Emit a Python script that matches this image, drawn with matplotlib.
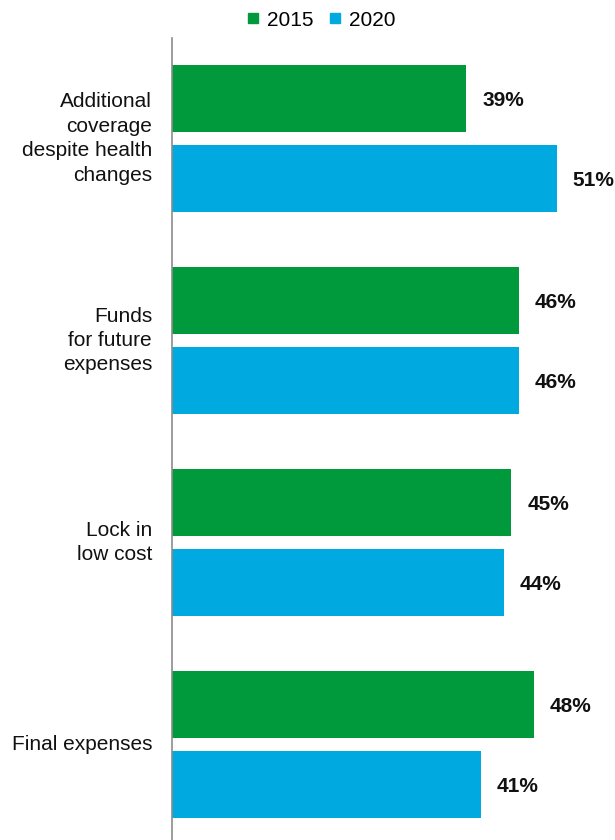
import matplotlib
matplotlib.use("Agg")
import matplotlib.pyplot as plt
from matplotlib.lines import Line2D

plt.rcParams['font.family'] = ['Liberation Sans', 'DejaVu Sans']

categories = ["Additional\ncoverage\ndespite health\nchanges",
              "Funds\nfor future\nexpenses",
              "Lock in\nlow cost",
              "Final expenses"]
values_2015 = [39, 46, 45, 48]
values_2020 = [51, 46, 44, 41]
series_names = ["2015", "2020"]
colors = ["#009A3D", "#00A9E0"]

fig = plt.figure(figsize=(6.15, 8.4), dpi=100)
ax = fig.add_axes([172/615, 0.0, 1 - 172/615, 1 - 38/840])

off = 40/202
h = 67/202
for i, (a, b) in enumerate(zip(values_2015, values_2020)):
    ax.barh(i - off, a, height=h, color=colors[0])
    ax.barh(i + off, b, height=h, color=colors[1])
    for y, v in ((i - off, a), (i + off, b)):
        ax.annotate(f"{v}%", (v, y), xytext=(11.5, -1.5), textcoords="offset points",
                    ha="left", va="center", fontsize=15, fontweight="bold", color="#111111",
                    annotation_clip=False)
    ax.text(-20/7.54, i, categories[i], ha="right", va="center", fontsize=15,
            color="#111111", linespacing=1.36)

ax.set_xlim(0, (615-172)/7.54)
ax.set_ylim(3 + 95.5/202, -100.5/202)
for s in ["top", "right", "bottom"]:
    ax.spines[s].set_visible(False)
ax.spines["left"].set_color("#8c8c8c")
ax.spines["left"].set_linewidth(1.2)
ax.set_xticks([])
ax.set_yticks([])

handles = [Line2D([], [], marker="s", linestyle="", markersize=7.5, color=c) for c in colors]
fig.legend(handles, series_names, loc="center", bbox_to_anchor=(320/615, 1 - 20/840),
           ncol=2, frameon=False, fontsize=15, handletextpad=0.3, columnspacing=0.6,
           handlelength=0.8)

fig.savefig("out.png", dpi=100)
